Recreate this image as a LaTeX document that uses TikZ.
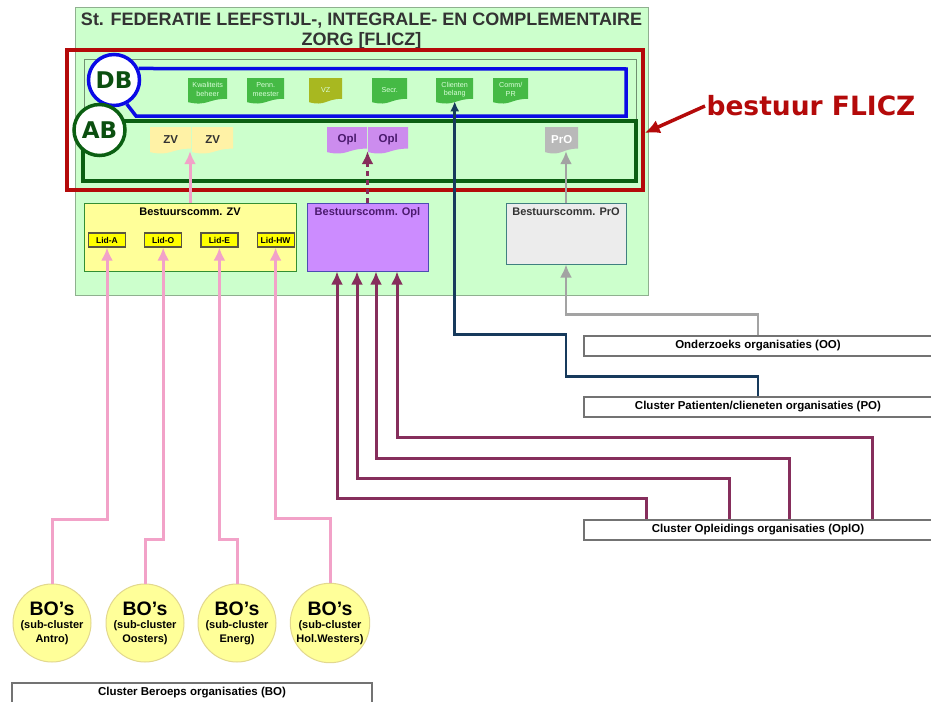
\documentclass[tikz,border=0pt]{standalone}
\usepackage{fontspec}
\setmainfont{Liberation Sans}
\newfontfamily\verdanafont{DejaVu Sans}
\usepackage{tikz}
\usetikzlibrary{shapes,arrows,arrows.meta,positioning}

\definecolor{fliczgreen}{HTML}{CCFFCC}
\definecolor{fliczborder}{HTML}{8FB08F}
\definecolor{innerborder}{HTML}{6F8F6F}
\definecolor{bestuurred}{HTML}{B40A0A}
\definecolor{dbblue}{HTML}{0A0AE6}
\definecolor{abgreen}{HTML}{0B5F12}
\definecolor{letteringgreen}{HTML}{0B4F10}
\definecolor{docgreen}{HTML}{45BA45}
\definecolor{docolive}{HTML}{A8B820}
\definecolor{docyellow}{HTML}{FFF2A6}
\definecolor{docpurple}{HTML}{CC8CEE}
\definecolor{docgray}{HTML}{B9B9B9}
\definecolor{opltext}{HTML}{4B1A6E}
\definecolor{commyellow}{HTML}{FFFF99}
\definecolor{commpurple}{HTML}{CC8CFF}
\definecolor{commgray}{HTML}{ECECEC}
\definecolor{lidyellow}{HTML}{FFFF00}
\definecolor{pinkline}{HTML}{F2A2C8}
\definecolor{oplline}{HTML}{862E5C}
\definecolor{navyline}{HTML}{173A5C}
\definecolor{grayline}{HTML}{A3A3A3}
\definecolor{bofill}{HTML}{FFFF99}
\definecolor{boborder}{HTML}{E2D88E}

% document shape: name, left, top, width, height, fill, text style, text
\newcommand{\docnode}[8]{%
  \fill[#6] (#2,#3) -- (#2+#4,#3) -- (#2+#4,#3+0.8*#5)
    .. controls (#2+0.5*#4,#3+0.8*#5) and (#2+0.5*#4,#3+1.1*#5) .. (#2,#3+0.93*#5) -- cycle;
  \node[#7, minimum width=#4, minimum height=0.88*#5, inner sep=0pt, anchor=north west] (#1) at (#2,#3) {#8};%
}

\begin{document}
\begin{tikzpicture}[x=1pt, y=-1pt,
        frame/.style={rectangle, draw, inner sep=0pt},
        titletext/.style={align=center, font=\bfseries\fontsize{18}{20}\selectfont, text=black!80},
        circletext/.style={circle, fill=white, line width=3.5pt, minimum size=51, inner sep=0pt, text=letteringgreen, font=\verdanafont\bfseries\fontsize{23}{24}\selectfont},
        dbtext/.style={align=center, text=green!15!white, font=\fontsize{7.2}{8.6}\selectfont},
        abtext/.style={text=black!80, font=\bfseries\fontsize{11.5}{13}\selectfont},
        commbox/.style={rectangle, draw, line width=1pt, inner sep=0pt},
        commtitle/.style={inner sep=0pt, font=\bfseries\fontsize{11}{13}\selectfont},
        lidbox/.style={rectangle, draw=black!75!yellow, fill=lidyellow, line width=1.2pt, minimum width=37, minimum height=14, inner sep=0pt, font=\bfseries\fontsize{8.5}{9}\selectfont},
        clusterbox/.style={rectangle, draw=black!55, fill=white, line width=1.2pt, minimum height=20, inner sep=0pt, font=\bfseries\fontsize{11.5}{13}\selectfont},
        bocircle/.style={circle, draw=boborder, fill=bofill, line width=1pt, minimum size=78, inner sep=0pt, align=center, font=\bfseries\fontsize{11}{13.5}\selectfont},
        bigtip/.style={-{Latex[length=13pt, width=12pt]}},
        pinkarrow/.style={draw=pinkline, line width=3pt, bigtip},
        oplarrow/.style={draw=oplline, line width=3pt, bigtip},
        navyarrow/.style={draw=navyline, line width=2.5pt, -{Latex[length=10pt, width=9pt]}},
        grayarrow/.style={draw=grayline, line width=2.5pt, bigtip},
        redarrow/.style={draw=bestuurred, line width=3.5pt, -{Latex[length=15pt, width=14pt]}}
    ]
        \useasboundingbox (0,0) rectangle (931,701);
        \fill[white] (0,0) rectangle (931,701);
        \clip (0,0) rectangle (931,701);

        % FLICZ frame and title
        \node[frame, fill=fliczgreen, draw=fliczborder, line width=1pt, minimum width=573, minimum height=287] (flicz) at (361.5,151.5) {};
        \node[titletext] (title) at (361.5,31) {St. FEDERATIE LEEFSTIJL-, INTEGRALE- EN COMPLEMENTAIRE\\ZORG [FLICZ]};

        % Bestuur frames
        \node[frame, draw=bestuurred, line width=3.5pt, minimum width=576, minimum height=140] (bestuur) at (355,120) {};
        \node[frame, draw=innerborder, line width=1pt, minimum width=552, minimum height=122] (inner) at (360,121) {};

        % DB
        \node[circletext, draw=dbblue] (db) at (114,80) {DB};
        \draw[dbblue, line width=3.5pt] (db.-62) -- (136,116) -- (626,116) -- (626,69) -- (db.25);

        % AB
        \node[frame, draw=abgreen, line width=4pt, minimum width=553, minimum height=60] (ab_frame) at (359.5,151) {};
        \node[circletext, draw=abgreen] (ab) at (99.5,130) {AB};

        % DB members
        \docnode{kwaliteit}{188}{78}{39}{26}{docgreen}{dbtext}{Kwaliteits\\beheer}
        \docnode{penningmeester}{247}{78}{37}{26}{docgreen}{dbtext}{Penn.\\meester}
        \docnode{voorzitter}{309}{78}{33}{26}{docolive}{dbtext}{VZ}
        \docnode{secretaris}{372}{78}{35}{26}{docgreen}{dbtext}{Secr.}
        \docnode{clienten}{436}{78}{37}{26}{docgreen}{dbtext}{Clienten\\belang}
        \docnode{communicatie}{493}{78}{35}{26}{docgreen}{dbtext}{Comm/\\PR}

        % AB members
        \docnode{zv_one}{150}{127}{41}{27}{docyellow}{abtext}{ZV}
        \docnode{zv_two}{192}{127}{41}{27}{docyellow}{abtext}{ZV}
        \docnode{opl_one}{327}{127}{40}{27}{docpurple}{abtext, text=opltext}{Opl}
        \docnode{opl_two}{368}{127}{40}{27}{docpurple}{abtext, text=opltext}{Opl}
        \docnode{pro_doc}{545}{127}{33}{27}{docgray}{abtext, text=white}{PrO}

        % Bestuurscommissies
        \node[commbox, fill=commyellow, draw=black!40!green!60!gray, minimum width=212, minimum height=68] (bc_zv) at (190,237) {};
        \node[commtitle, anchor=north, yshift=-5pt] (bc_zv_title) at (bc_zv.north) {Bestuurscomm. ZV};
        \node[commbox, fill=commpurple, draw=blue!40!gray, minimum width=121, minimum height=68] (bc_opl) at (367.5,237) {};
        \node[commtitle, text=opltext, anchor=north, yshift=-5pt] (bc_opl_title) at (bc_opl.north) {Bestuurscomm. Opl};
        \node[commbox, fill=commgray, draw=teal!50!gray, minimum width=120, minimum height=61] (bc_pro) at (566,233.5) {};
        \node[commtitle, text=black!80, anchor=north, yshift=-5pt] (bc_pro_title) at (bc_pro.north) {Bestuurscomm. PrO};

        % Leden
        \node[lidbox] (lid_a) at (107,240) {Lid-A};
        \node[lidbox, right=18pt of lid_a] (lid_o) {Lid-O};
        \node[lidbox, right=18pt of lid_o] (lid_e) {Lid-E};
        \node[lidbox, right=18pt of lid_e] (lid_hw) {Lid-HW};

        % Clusters
        \node[clusterbox, minimum width=348] (oo) at (758,346) {Onderzoeks organisaties (OO)};
        \node[clusterbox, minimum width=348] (po) at (758,407) {Cluster Patienten/clieneten organisaties (PO)};
        \node[clusterbox, minimum width=348] (oplo) at (758,530) {Cluster Opleidings organisaties (OplO)};
        \node[clusterbox, minimum width=360] (bo) at (192,693) {Cluster Beroeps organisaties (BO)};

        % BO sub-clusters
        \node[bocircle] (bo_antro) at (52,623) {{\fontsize{19.5}{20}\selectfont BO's}\\(sub-cluster\\Antro)};
        \node[bocircle] (bo_oosters) at (145,623) {{\fontsize{19.5}{20}\selectfont BO's}\\(sub-cluster\\Oosters)};
        \node[bocircle] (bo_energ) at (237,623) {{\fontsize{19.5}{20}\selectfont BO's}\\(sub-cluster\\Energ)};
        \node[bocircle] (bo_hol) at (330,623) {{\fontsize{19.5}{20}\selectfont BO's}\\(sub-cluster\\Hol.Westers)};

        % bestuur label
        \node[text=bestuurred, font=\verdanafont\bfseries\fontsize{26.5}{28}\selectfont] (bestuur_label) at (811,106) {bestuur FLICZ};

        % Connections
        \draw[pinkarrow] (bc_zv.north) -- (bc_zv.north |- zv_one.south);
        \draw[oplarrow, dash pattern=on 5pt off 4pt] (bc_opl.north) -- (bc_opl.north |- opl_one.south);
        \draw[grayarrow] (bc_pro.north) -- (bc_pro.north |- pro_doc.south);
        \draw[pinkarrow] (bo_antro.north) -- ++(0,-64) -| (lid_a.south);
        \draw[pinkarrow] (bo_oosters.north) -- ++(0,-44) -| (lid_o.south);
        \draw[pinkarrow] (bo_energ.north) -- ++(0,-44) -| (lid_e.south);
        \draw[pinkarrow] (bo_hol.north) -- ++(0,-64) -| (lid_hw.south);
        \foreach \sx/\rise/\ex in {63/21/-30.5, 146/41/-10.5, 206/61/8.5, 289/82/29.5}
            \draw[oplarrow] ([xshift=\sx pt]oplo.north west) -- ++(0,-\rise) -| ([xshift=\ex pt]bc_opl.south);
        \draw[grayarrow] (oo.north) -- ++(0,-21) -| (bc_pro.south);
        \draw[navyarrow] (po.north) -- ++(0,-20) -- ++(-192,0) -- ++(0,-42) -| (clienten.south);
        \draw[redarrow] ([xshift=2pt]bestuur_label.west) -- ([yshift=-13pt]bestuur.east);

    \end{tikzpicture}
\end{document}
